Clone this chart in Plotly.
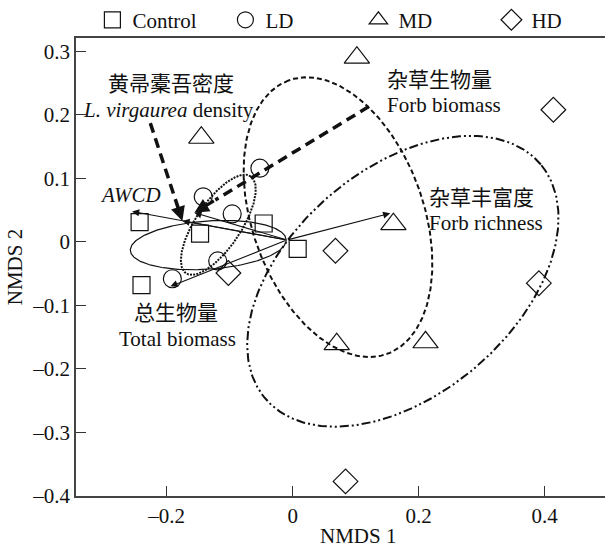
import numpy as np
import plotly.graph_objects as go

# ---------------- data ----------------
groups = ["Control", "LD", "MD", "HD"]
symbols = ["square-open", "circle-open", "triangle-up-open", "diamond-open"]
sizes = [17, 18, 22, 19]

control_x = [-0.243, -0.147, -0.046, 0.008, -0.240]
control_y = [0.031, 0.013, 0.029, -0.011, -0.068]
ld_x = [-0.052, -0.142, -0.096, -0.119, -0.191]
ld_y = [0.116, 0.071, 0.044, -0.030, -0.058]
md_x = [0.102, -0.145, 0.160, 0.070, 0.211]
md_y = [0.290, 0.164, 0.028, -0.161, -0.158]
hd_x = [0.414, 0.068, 0.391, -0.102, 0.084]
hd_y = [0.208, -0.014, -0.065, -0.049, -0.377]
group_x = [control_x, ld_x, md_x, hd_x]
group_y = [control_y, ld_y, md_y, hd_y]

# group ellipses: centre x, centre y, semi-axis a, semi-axis b, angle (deg)
ell_cx = [-0.134, -0.118, 0.072, 0.175]
ell_cy = [-0.005, 0.027, 0.039, -0.062]
ell_a = [0.124, 0.092, 0.229, 0.286]
ell_b = [0.038, 0.036, 0.136, 0.178]
ell_ang = [4, 56, 110, 40]
ell_dash = ["solid", "2px,1.2px", "5px,3px", "9px,3px,2px,3px,2px,3px"]
ell_width = [1.2, 2.0, 2.0, 2.0]

# environmental vectors (start at common origin)
vec_names = ["AWCD", "L. virgaurea density", "Forb biomass", "Total biomass", "Forb richness"]
vec_x0, vec_y0 = -0.009, 0.003
vec_x = [-0.255, -0.175, -0.156, -0.194, 0.155]
vec_y = [0.048, 0.033, 0.046, -0.070, 0.045]

# dashed leader lines from labels to vector tips
lead_from_x = [-0.226, 0.121]
lead_from_y = [0.187, 0.213]
lead_to_x = [-0.175, -0.156]
lead_to_y = [0.033, 0.046]

xticks = [-0.2, 0, 0.2, 0.4]
xtick_text = ["\u20130.2", "0", "0.2", "0.4"]
yticks = [-0.4, -0.3, -0.2, -0.1, 0, 0.1, 0.2, 0.3]
ytick_text = ["\u20130.4", "\u20130.3", "\u20130.2", "\u20130.1", "0", "0.1", "0.2", "0.3"]

FONT = "Liberation Serif, 'Noto Sans CJK SC', serif"
INK = "#111111"
FS = 21

fig = go.Figure()

# ellipses
t = np.linspace(0, 2 * np.pi, 300)
for cx, cy, a, b, ang, dash, w in zip(ell_cx, ell_cy, ell_a, ell_b, ell_ang, ell_dash, ell_width):
    th = np.deg2rad(ang)
    ex = cx + a * np.cos(t) * np.cos(th) - b * np.sin(t) * np.sin(th)
    ey = cy + a * np.cos(t) * np.sin(th) + b * np.sin(t) * np.cos(th)
    fig.add_trace(go.Scatter(x=ex, y=ey, mode="lines", showlegend=False, hoverinfo="skip",
                             line=dict(color=INK, width=w, dash=dash)))

# leader lines (thick dashed)
for fx, fy, tx, ty in zip(lead_from_x, lead_from_y, lead_to_x, lead_to_y):
    mx = tx + 0.12 * (fx - tx)
    my = ty + 0.12 * (fy - ty)
    fig.add_trace(go.Scatter(x=[fx, mx], y=[fy, my], mode="lines", showlegend=False, hoverinfo="skip",
                             line=dict(color=INK, width=3.5, dash="10px,6px")))
    fig.add_annotation(x=tx, y=ty, ax=mx, ay=my, xref="x", yref="y", axref="x", ayref="y",
                       text="", showarrow=True, arrowhead=2, arrowsize=0.9, arrowwidth=3.2,
                       arrowcolor=INK)

# points
for name, sym, sz, xs, ys in zip(groups, symbols, sizes, group_x, group_y):
    fig.add_trace(go.Scatter(x=xs, y=ys, mode="markers", name=name,
                             marker=dict(symbol=sym, size=sz, color=INK, line=dict(width=1.2, color=INK))))

# vectors
for vx, vy in zip(vec_x, vec_y):
    fig.add_annotation(x=vx, y=vy, ax=vec_x0, ay=vec_y0, xref="x", yref="y", axref="x", ayref="y",
                       text="", showarrow=True, arrowhead=2, arrowsize=1.3, arrowwidth=1.1,
                       arrowcolor=INK)

labels = [
    ("黄帚橐吾密度", -0.1925, 0.2484),
    ("<i>L. virgaurea</i> density", -0.1973, 0.2075),
    ("<i>AWCD</i>", -0.2576, 0.0739),
    ("杂草生物量", 0.2329, 0.2547),
    ("Forb biomass", 0.2408, 0.2154),
    ("杂草丰富度", 0.2995, 0.0692),
    ("Forb richness", 0.3075, 0.0299),
    ("总生物量", -0.1846, -0.1116),
    ("Total biomass", -0.1830, -0.1525),
]
for txt, lx, ly in labels:
    fig.add_annotation(x=lx, y=ly, xref="x", yref="y", text=txt, showarrow=False,
                       font=dict(family=FONT, size=FS, color=INK), xanchor="center", yanchor="middle")

fig.add_annotation(x=(358 - 75.5) / 529.5, y=-0.088, xref="paper", yref="paper", text="NMDS 1",
                   showarrow=False, font=dict(family=FONT, size=FS, color=INK),
                   xanchor="center", yanchor="middle")

axis_common = dict(showgrid=False, zeroline=False, showline=True, linecolor="#444444", linewidth=1.5,
                   ticks="inside", ticklen=10, tickwidth=1.3, tickcolor="#333333",
                   tickfont=dict(family=FONT, size=FS, color=INK))

fig.update_layout(
    width=605, height=550,
    margin=dict(l=75.5, r=0, t=38, b=53.5, autoexpand=False),
    paper_bgcolor="white", plot_bgcolor="white",
    xaxis=dict(range=[-0.344, 0.496], tickvals=xticks, ticktext=xtick_text, mirror=True, **axis_common),
    yaxis=dict(range=[-0.4, 0.321], tickvals=yticks, ticktext=ytick_text,
               title=dict(text="NMDS 2", font=dict(family=FONT, size=FS, color=INK), standoff=4),
               **axis_common),
    legend=dict(orientation="h", x=0.031, xanchor="left", y=1.039, yanchor="middle",
                font=dict(family=FONT, size=FS, color=INK), entrywidth=88, entrywidthmode="pixels",
                bgcolor="rgba(0,0,0,0)", itemclick=False, itemdoubleclick=False),
    showlegend=True,
)

fig.write_html("out.html", config={"displayModeBar": False},
               post_script="document.body.style.margin='0';document.body.style.padding='0';")
